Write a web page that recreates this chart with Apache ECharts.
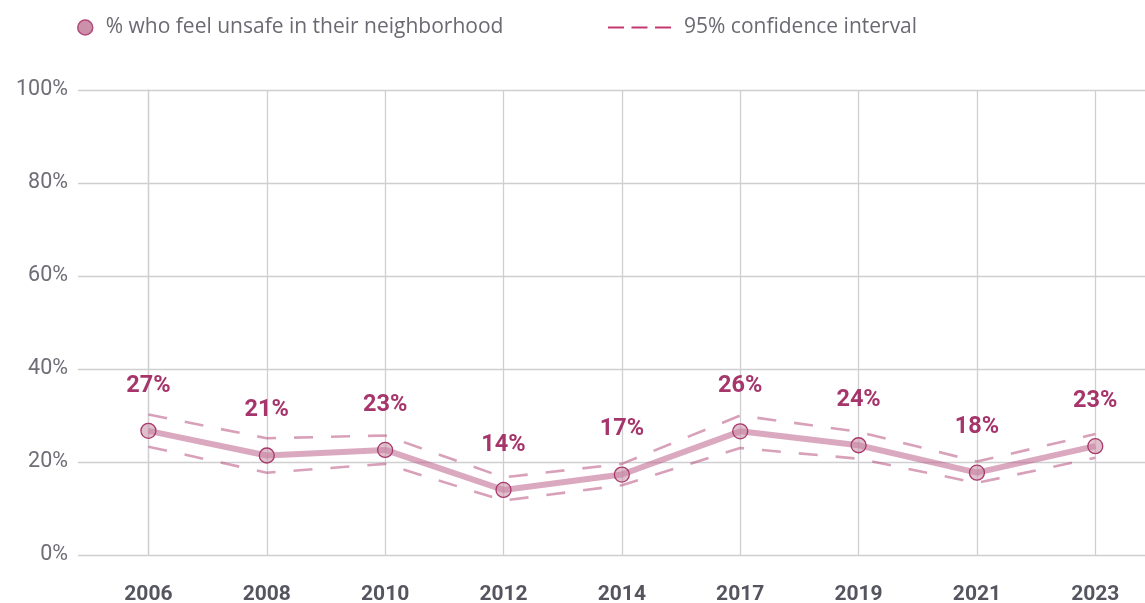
<!DOCTYPE html>
<html><head><meta charset="utf-8">
<script src="https://cdn.jsdelivr.net/npm/echarts@6/dist/echarts.min.js"></script>
<style>html,body{margin:0;padding:0;background:#fff}#c{width:1145px;height:603px}</style>
</head><body><div id="c"></div>
<script>
const years = ['2006','2008','2010','2012','2014','2017','2019','2021','2023'];
const unsafe = [26.7, 21.4, 22.6, 14.0, 17.3, 26.6, 23.6, 17.7, 23.4];
const ciUpper = [30.2, 25.1, 25.7, 16.7, 19.6, 30.0, 26.5, 20.1, 26.0];
const ciLower = [23.3, 17.7, 19.6, 11.7, 15.0, 23.0, 20.7, 15.5, 20.9];
const valueLabels = ['27%','21%','23%','14%','17%','26%','24%','18%','23%'];
const yTicks = [0, 20, 40, 60, 80, 100];

const idx = years.map((_, i) => i);
const toPts = arr => arr.map((v, i) => [i, v]);
const ciColor = 'rgba(184,84,128,0.55)';
const mainName = '% who feel unsafe in their neighborhood';
const ciName = '95% confidence interval';

const chart = echarts.init(document.getElementById('c'), null, {renderer: 'canvas'});
chart.setOption({
  animation: false,
  textStyle: {fontFamily: 'Roboto'},
  legend: [{
    left: 77, top: 17, padding: 0, itemWidth: 15, itemHeight: 15, itemGap: 14,
    textStyle: {fontFamily: 'Open Sans', fontSize: 21, color: '#6a6a72', padding: [0, 0, 0, 8]},
    data: [{name: mainName, icon: 'circle', itemStyle: {color: '#cd90aa', borderColor: '#b24a7a', borderWidth: 1.5}}]
  }, {
    left: 608, top: 17, padding: 0, itemWidth: 63, itemHeight: 2, itemGap: 14,
    textStyle: {fontFamily: 'Open Sans', fontSize: 21, color: '#6a6a72', padding: [0, 0, 0, 8]},
    data: [{name: ciName, icon: 'path://M0,0H16V2H0Z M23.5,0H39.5V2H23.5Z M47,0H63V2H47Z', itemStyle: {color: '#c43a70'}}]
  }],
  grid: {left: 78, right: 0, top: 90, bottom: 48, containLabel: false, outerBoundsMode: 'none'},
  xAxis: {
    type: 'value', min: -0.595, max: 8.42,
    axisLine: {show: false},
    axisTick: {show: false, customValues: idx},
    axisLabel: {customValues: idx, formatter: v => years[Math.round(v)] || '', margin: 29,
      fontSize: 21, fontWeight: 'bold', color: '#55555f', fontFamily: 'Roboto'},
    splitLine: {show: true, lineStyle: {color: '#cfcfd2', width: 1.3}}
  },
  yAxis: {
    type: 'value', min: 0, max: 100, interval: 20,
    axisLine: {show: true, lineStyle: {color: '#cfcfd2', width: 1.3}},
    axisTick: {show: false},
    axisLabel: {formatter: v => yTicks.includes(v) ? v + '%' : '', margin: 10, fontSize: 21.5, color: '#6e6e76', fontFamily: 'Roboto'},
    splitLine: {show: true, lineStyle: {color: '#cfcfd2', width: 1.3}}
  },
  series: [{
    name: ciName, type: 'line', data: toPts(ciUpper), symbol: 'none', silent: true,
    lineStyle: {color: ciColor, width: 2.6, type: [19, 18]}, itemStyle: {color: ciColor}, z: 2
  }, {
    name: ciName, type: 'line', data: toPts(ciLower), symbol: 'none', silent: true,
    lineStyle: {color: ciColor, width: 2.6, type: [19, 18]}, itemStyle: {color: ciColor}, z: 2
  }, {
    name: mainName, type: 'line', data: toPts(unsafe), symbol: 'circle', symbolSize: 15, z: 3,
    lineStyle: {color: 'rgba(184,84,128,0.5)', width: 6},
    itemStyle: {color: 'rgba(200,140,166,0.55)', borderColor: '#a8386a', borderWidth: 1.3},
    label: {show: true, position: 'top', distance: 25, formatter: p => valueLabels[p.dataIndex],
      fontSize: 23.5, fontWeight: 'bold', color: '#a5356a', fontFamily: 'Roboto'}
  }]
});
</script></body></html>
